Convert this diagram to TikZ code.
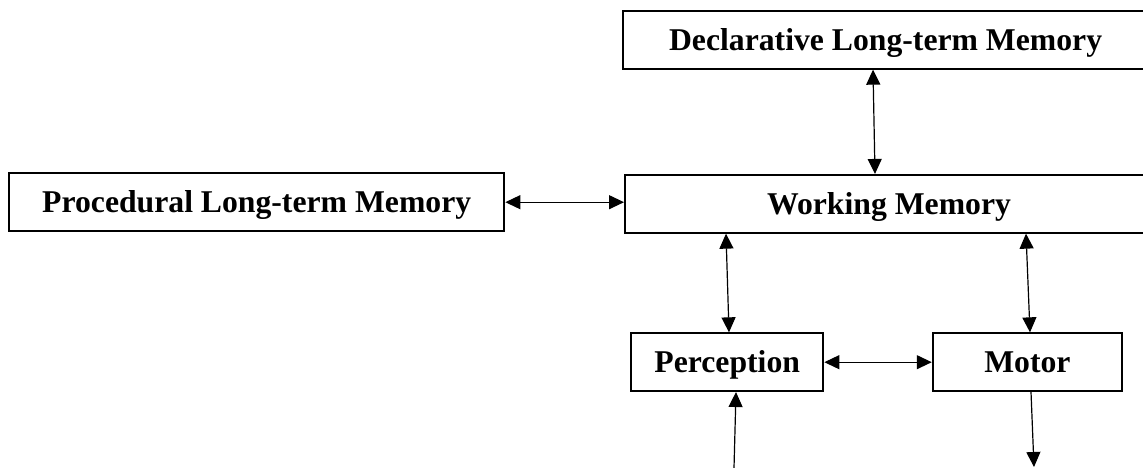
\documentclass[tikz,border=0pt]{standalone}
\usepackage{fontspec}
\setmainfont{Liberation Serif}
\usetikzlibrary{arrows.meta}
\begin{document}
\begin{tikzpicture}[x=1pt,y=-1pt,
  box/.style={draw,line width=2pt,inner sep=0pt,minimum height=57.7pt,
    text height=21pt,text depth=0pt,font=\fontsize{31.7}{38}\selectfont\bfseries},
  arr/.style={line width=1.2pt,-{Triangle[length=15pt,width=14pt]}},
  darr/.style={line width=1.2pt,{Triangle[length=15pt,width=14pt]}-{Triangle[length=15pt,width=14pt]}}]
\useasboundingbox (0,0) rectangle (1143,468);
\node[box,minimum width=524.7pt] (decl) at (885.6,39.8) {Declarative Long-term Memory};
\node[box,minimum width=528pt] (wm) at (889,203.8) {Working Memory};
\node[box,minimum width=495.3pt] (proc) at (256.7,202.2) {Procedural Long-term Memory};
\node[box,minimum width=192.3pt] (perc) at (727.2,362.2) {Perception};
\node[box,minimum width=189.3pt] (motor) at (1027.4,362.2) {Motor};
\coordinate (in1) at (734,468);
\coordinate (out1) at (1034,467);
\draw[darr] ([xshift=-12.6pt]decl.south) -- ([xshift=-14pt]wm.north);
\draw[darr] (proc.east) -- (proc.east -| wm.west);
\draw[darr] ([xshift=-163pt]wm.south) -- ([xshift=1.8pt]perc.north);
\draw[darr] ([xshift=137pt]wm.south) -- ([xshift=2.6pt]motor.north);
\draw[darr] (perc.east) -- (motor.west);
\draw[arr] (in1) -- ([xshift=8.8pt]perc.south);
\draw[arr] ([xshift=3.6pt]motor.south) -- (out1);
\end{tikzpicture}
\end{document}
